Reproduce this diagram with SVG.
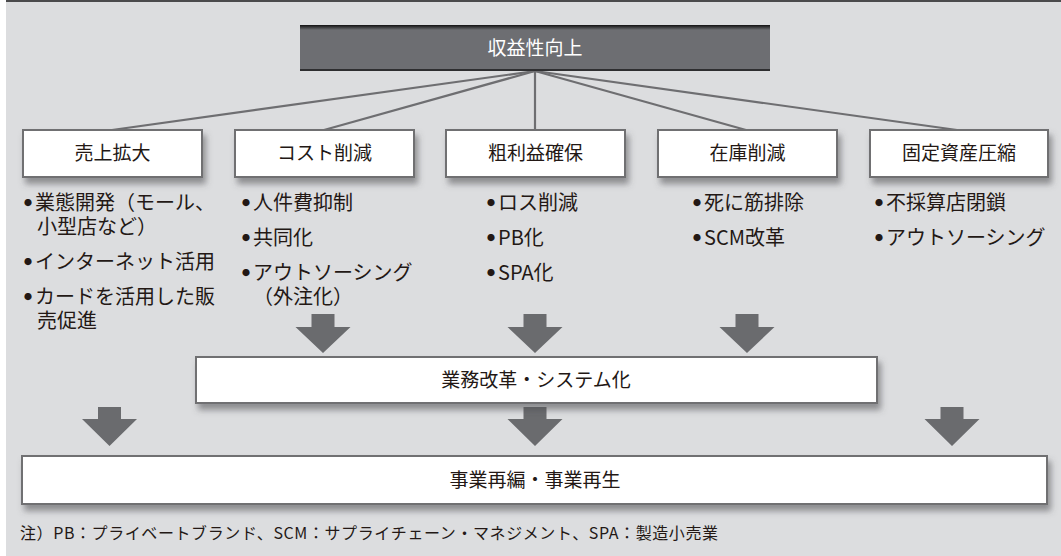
<svg xmlns="http://www.w3.org/2000/svg" width="1061" height="556" viewBox="0 0 1061 556">
<style>
text{font-family:"Noto Sans CJK JP","Noto Sans",sans-serif;fill:#231815}
.lbl{font-size:19px;text-anchor:middle}
.top{font-size:19px;text-anchor:middle;fill:#ffffff}
.b{font-size:20px}
.dot{font-size:8px}
.note{font-size:16px}
.box{fill:#ffffff;stroke:#707072;stroke-width:2;filter:url(#sh)}
.conn line{stroke:#6e6e71;stroke-width:2.2}
.arr{fill:#6a6b6e}
</style>
<defs>
<filter id="sh" x="-5%" y="-20%" width="115%" height="160%">
<feDropShadow dx="3" dy="6" stdDeviation="3" flood-color="#4d4d4f" flood-opacity="0.55"/>
</filter>
<linearGradient id="tg" x1="0" y1="0" x2="0" y2="1">
<stop offset="0" stop-color="#121212"/>
<stop offset="1" stop-color="#6d6e72"/>
</linearGradient>
<path id="a1" d="M-11.5,0 H11.5 V13 H27.5 L0,39 L-27.5,13 H-11.5 Z"/>
<path id="a2" d="M-11.5,0 H11.5 V12 H27.5 L0,39 L-27.5,12 H-11.5 Z"/>
</defs>
<rect x="0" y="0" width="1061" height="556" fill="#ffffff"/>
<rect x="6" y="0" width="1055" height="556" fill="#dcdddf"/>
<rect x="6" y="0" width="1055" height="2" fill="#4a4a4c"/>

<g class="conn" id="connectors">
<line x1="535" y1="71" x2="112" y2="130"/>
<line x1="535" y1="71" x2="324" y2="130"/>
<line x1="535" y1="71" x2="535" y2="130"/>
<line x1="535" y1="71" x2="746" y2="130"/>
<line x1="535" y1="71" x2="957" y2="130"/>
<use href="#a1" class="arr" x="323" y="314"/>
<use href="#a1" class="arr" x="535" y="314"/>
<use href="#a1" class="arr" x="747" y="314"/>
<use href="#a2" class="arr" x="109.5" y="407"/>
<use href="#a2" class="arr" x="535" y="407"/>
<use href="#a2" class="arr" x="952" y="407"/>
</g>

<g id="n-top">
<rect x="300" y="25" width="470" height="46" fill="#6d6e72"/>
<rect x="300" y="25" width="470" height="5" fill="url(#tg)"/>
<rect x="300" y="69" width="470" height="2" fill="#2e2e30"/>
<text class="top" x="535" y="55">収益性向上</text>
</g>

<g id="n-uriage">
<rect class="box" x="23" y="130" width="179" height="47"/>
<text class="lbl" x="112.5" y="160">売上拡大</text>
<text class="b"><tspan class="dot" x="24" y="206">●</tspan><tspan x="35" y="210">業態開発（モール、</tspan><tspan x="37" y="234">小型店など）</tspan></text>
<text class="b"><tspan class="dot" x="24" y="265">●</tspan><tspan x="35" y="269">インターネット活用</tspan></text>
<text class="b"><tspan class="dot" x="24" y="300">●</tspan><tspan x="35" y="304">カードを活用した販</tspan><tspan x="37" y="328">売促進</tspan></text>
</g>

<g id="n-cost">
<rect class="box" x="235" y="130" width="179" height="47"/>
<text class="lbl" x="324.5" y="160">コスト削減</text>
<text class="b"><tspan class="dot" x="242" y="206">●</tspan><tspan x="253" y="210">人件費抑制</tspan></text>
<text class="b"><tspan class="dot" x="242" y="241">●</tspan><tspan x="253" y="245">共同化</tspan></text>
<text class="b"><tspan class="dot" x="242" y="276">●</tspan><tspan x="253" y="280">アウトソーシング</tspan><tspan x="253" y="304">（外注化）</tspan></text>
</g>

<g id="n-arari">
<rect class="box" x="446" y="130" width="179" height="47"/>
<text class="lbl" x="535.5" y="160">粗利益確保</text>
<text class="b"><tspan class="dot" x="487" y="206">●</tspan><tspan x="498" y="210">ロス削減</tspan></text>
<text class="b"><tspan class="dot" x="487" y="241">●</tspan><tspan x="498" y="245">PB化</tspan></text>
<text class="b"><tspan class="dot" x="487" y="276">●</tspan><tspan x="498" y="280">SPA化</tspan></text>
</g>

<g id="n-zaiko">
<rect class="box" x="658" y="130" width="179" height="47"/>
<text class="lbl" x="747.5" y="160">在庫削減</text>
<text class="b"><tspan class="dot" x="693" y="206">●</tspan><tspan x="704" y="210">死に筋排除</tspan></text>
<text class="b"><tspan class="dot" x="693" y="241">●</tspan><tspan x="704" y="245">SCM改革</tspan></text>
</g>

<g id="n-kotei">
<rect class="box" x="870" y="130" width="178" height="47"/>
<text class="lbl" x="959" y="160">固定資産圧縮</text>
<text class="b"><tspan class="dot" x="875" y="206">●</tspan><tspan x="886" y="210">不採算店閉鎖</tspan></text>
<text class="b"><tspan class="dot" x="875" y="241">●</tspan><tspan x="886" y="245">アウトソーシング</tspan></text>
</g>

<g id="n-gyomu">
<rect class="box" x="196" y="357" width="681" height="46"/>
<text class="lbl" x="536" y="387">業務改革・システム化</text>
</g>

<g id="n-jigyo">
<rect class="box" x="22" y="456" width="1025" height="48"/>
<text class="lbl" x="535" y="487">事業再編・事業再生</text>
</g>

<text class="note" x="20" y="539" textLength="698" lengthAdjust="spacing">注）PB：プライベートブランド、SCM：サプライチェーン・マネジメント、SPA：製造小売業</text>
</svg>
